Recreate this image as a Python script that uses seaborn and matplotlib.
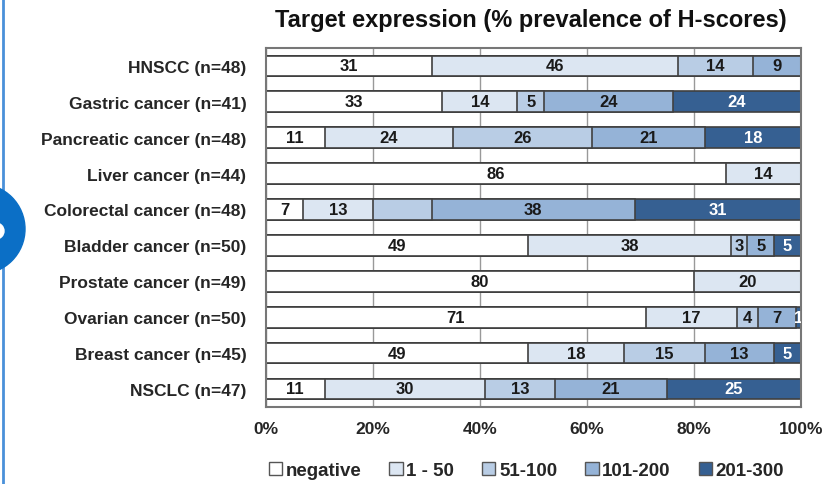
import numpy as np
import pandas as pd
import matplotlib
matplotlib.use('Agg')
import matplotlib.pyplot as plt
import seaborn as sns
from matplotlib.patches import Patch, Circle

categories = ["HNSCC (n=48)", "Gastric cancer (n=41)", "Pancreatic cancer (n=48)",
              "Liver cancer (n=44)", "Colorectal cancer (n=48)", "Bladder cancer (n=50)",
              "Prostate cancer (n=49)", "Ovarian cancer (n=50)", "Breast cancer (n=45)",
              "NSCLC (n=47)"]
series_names = ["negative", "1 - 50", "51-100", "101-200", "201-300"]
negative = [31, 33, 11, 86, 7, 49, 80, 71, 49, 11]
h1_50 = [46, 14, 24, 14, 13, 38, 20, 17, 18, 30]
h51_100 = [14, 5, 26, 0, 11, 3, 0, 4, 15, 13]
h101_200 = [9, 24, 21, 0, 38, 5, 0, 7, 13, 21]
h201_300 = [0, 24, 18, 0, 31, 5, 0, 1, 5, 25]
# segments that carry no number label in the original
unlabeled = [("Colorectal cancer (n=48)", "51-100")]

colors = ["#ffffff", "#dce6f2", "#b9cde5", "#95b3d7", "#366092"]
text_colors = ["#1a1a1a", "#1a1a1a", "#1a1a1a", "#1a1a1a", "#ffffff"]

sns.set_style("white")
plt.rcParams['font.family'] = ['Liberation Sans', 'DejaVu Sans']
plt.rcParams['font.weight'] = 'bold'

df = pd.DataFrame({"category": categories})
values = [negative, h1_50, h51_100, h101_200, h201_300]
for name, vals in zip(series_names, values):
    df[name] = vals
cum = df[series_names].cumsum(axis=1)

fig = plt.figure(figsize=(8.33, 4.85), dpi=100)
ax = fig.add_axes([0.319, 0.159, 0.6426, 0.740])

# draw stacked bars back-to-front (longest cumulative first)
for i in range(len(series_names) - 1, -1, -1):
    name = series_names[i]
    plot_df = pd.DataFrame({"category": categories, "x": cum[name]})
    sns.barplot(data=plot_df, x="x", y="category", orient="h", color=colors[i],
                saturation=1, width=0.58, edgecolor="#404040", linewidth=1.2, ax=ax)

for i, name in enumerate(series_names):
    for j, cat in enumerate(categories):
        v = df.loc[j, name]
        if v <= 0 or (cat, name) in unlabeled:
            continue
        ax.text(cum.loc[j, name] - v / 2, j, f"{v}", ha="center", va="center",
                fontsize=12, fontweight="bold", color=text_colors[i], clip_on=True)

ax.set_xlim(0, 100)
ax.set_ylim(len(categories) - 0.5, -0.5)
ax.set_xticks(np.arange(0, 101, 20))
ax.set_xticklabels([f"{t}%" for t in range(0, 101, 20)], fontsize=12.5, fontweight="bold")
ax.set_yticks(range(len(categories)))
ax.set_yticklabels(categories, fontsize=12.5, fontweight="bold")
ax.set_yticks(np.arange(-0.5, len(categories)), minor=True)
ax.tick_params(axis="y", which="major", length=0, pad=14)
ax.tick_params(axis="y", which="minor", length=5, direction="out", color="#555555")
ax.tick_params(axis="x", length=0, pad=10)
ax.set_xlabel("")
ax.set_ylabel("")
ax.xaxis.grid(True, color="#999999", linewidth=1.0)
ax.set_axisbelow(True)
for s in ax.spines.values():
    s.set_visible(True)
    s.set_color("#777777")
    s.set_linewidth(1.5)

fig.text(0.637, 0.958, "Target expression (% prevalence of H-scores)", ha="center",
         va="center", fontsize=17, fontweight="bold", color="#111111")

handles = [Patch(facecolor=c, edgecolor="#555555", linewidth=1.0) for c in colors]
fig.legend(handles, series_names, loc="center", bbox_to_anchor=(0.632, 0.027), ncol=5,
           frameon=False, handlelength=0.7, handleheight=0.7, handletextpad=0.2,
           columnspacing=1.5, prop={"size": 13.5, "weight": "bold"})

# slide decoration at the left edge
fig.add_artist(plt.Line2D([0.004, 0.004], [0, 1], transform=fig.transFigure,
                          color="#4a90d9", linewidth=2))
fig.add_artist(Circle((-0.20, (485 - 230) / 100), 0.45, transform=fig.dpi_scale_trans,
                      color="#0b6fc6", zorder=5))
fig.add_artist(Circle((-0.04, (485 - 232) / 100), 0.08, transform=fig.dpi_scale_trans,
                      color="#ffffff", zorder=6))

fig.savefig("out.png", dpi=100)
